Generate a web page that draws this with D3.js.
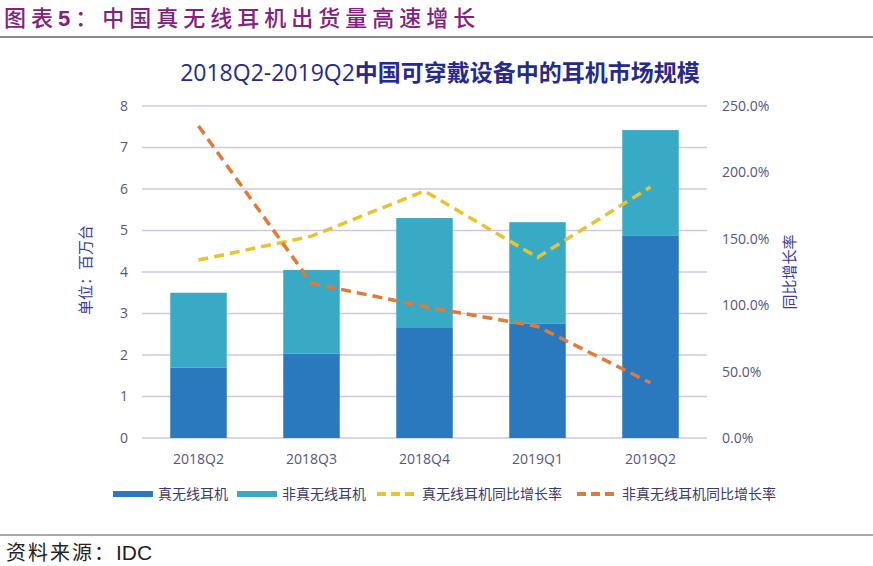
<!DOCTYPE html>
<html><head><meta charset="utf-8">
<script src="https://cdn.jsdelivr.net/npm/d3@7/dist/d3.min.js"></script>
<style>
body{margin:0;background:#fff;}
svg{display:block;font-family:"Noto Sans CJK SC","Noto Sans",sans-serif;}
</style></head>
<body><svg id="c" width="873" height="566"></svg>
<script>
const categories = ["2018Q2","2018Q3","2018Q4","2019Q1","2019Q2"];
const twsUnits = [1.7, 2.03, 2.65, 2.75, 4.87];        // 真无线耳机 (百万台)
const nonTwsUnits = [1.8, 2.02, 2.65, 2.45, 2.55];     // 非真无线耳机 (百万台)
const twsGrowth = [1.34, 1.52, 1.86, 1.36, 1.89];      // 真无线耳机同比增长率
const nonTwsGrowth = [2.35, 1.165, 0.99, 0.84, 0.415]; // 非真无线耳机同比增长率
const leftTicks = [0,1,2,3,4,5,6,7,8];
const rightTicks = [0,0.5,1,1.5,2,2.5];
const seriesNames = ["真无线耳机","非真无线耳机","真无线耳机同比增长率","非真无线耳机同比增长率"];

const svg = d3.select("#c");
const C = {dark:"#2a78bd", light:"#38aac6", yellow:"#ecc22c", orange:"#e27a35", grid:"#c9c9e6", tick:"#55557f", axisTitle:"#3a3aa0", title:"#262a8e", head:"#84207f"};

// Header
const h = svg.append("text").attr("x",4).attr("y",26).attr("fill",C.head)
  .attr("font-size",22).attr("letter-spacing",5).attr("font-weight",500);
h.append("tspan").text("图表");
h.append("tspan").attr("font-family","'Liberation Sans',Arial,sans-serif").attr("font-weight",700).text("5");
h.append("tspan").text("：中国真无线耳机出货量高速增长");
svg.append("line").attr("x1",0).attr("x2",873).attr("y1",37).attr("y2",37).attr("stroke","#8a8a8a").attr("stroke-width",2);

// Chart title
const t = svg.append("text").attr("x",440).attr("y",81).attr("text-anchor","middle").attr("fill",C.title).attr("font-size",23);
t.append("tspan").attr("font-family","'Open Sans',sans-serif").text("2018Q2-2019Q2");
t.append("tspan").attr("font-weight","bold").text("中国可穿戴设备中的耳机市场规模");

const x = d3.scaleBand().domain(categories).range([142,707]).paddingInner(0.5).paddingOuter(0.25);
const yL = d3.scaleLinear().domain([0,8]).range([438,106]);
const yR = d3.scaleLinear().domain([0,2.5]).range([438,106]);

// Gridlines
svg.append("g").selectAll("line").data(leftTicks).join("line")
  .attr("x1",142).attr("x2",707).attr("y1",d=>yL(d)).attr("y2",d=>yL(d))
  .attr("stroke",C.grid).attr("stroke-width",1.3);

// Left axis
const gL = svg.append("g").attr("transform","translate(142,0)")
  .call(d3.axisLeft(yL).tickValues(leftTicks).tickSize(0).tickPadding(14).tickFormat(d3.format("d")));
gL.select(".domain").remove();
gL.selectAll("text").attr("font-size",14).attr("fill",C.tick).attr("font-family","'Open Sans',sans-serif");

// Right axis
const gR = svg.append("g").attr("transform","translate(707,0)")
  .call(d3.axisRight(yR).tickValues(rightTicks).tickSize(0).tickPadding(15).tickFormat(d3.format(".1%")));
gR.select(".domain").remove();
gR.selectAll("text").attr("font-size",14).attr("fill",C.tick).attr("font-family","'Open Sans',sans-serif");

// Bottom axis
const gB = svg.append("g").attr("transform","translate(0,438)")
  .call(d3.axisBottom(x).tickSize(0).tickPadding(16));
gB.select(".domain").remove();
gB.selectAll("text").attr("font-size",14).attr("fill",C.tick).attr("font-family","'Open Sans',sans-serif");

// Axis titles
svg.append("text").attr("transform","translate(91,270) rotate(-90)").attr("text-anchor","middle")
  .attr("fill",C.axisTitle).attr("font-size",15).text("单位：百万台");
svg.append("text").attr("transform","translate(795,272) rotate(-90)").attr("text-anchor","middle")
  .attr("fill",C.axisTitle).attr("font-size",15).text("同比增长率");

// Stacked bars
const rows = categories.map((c,i)=>({cat:c, tws:twsUnits[i], non:nonTwsUnits[i]}));
const stack = d3.stack().keys(["tws","non"])(rows);
const colors = [C.dark, C.light];
svg.append("g").selectAll("g").data(stack).join("g").attr("fill",(d,i)=>colors[i])
  .selectAll("rect").data(d=>d).join("rect")
  .attr("x",d=>x(d.data.cat)).attr("width",x.bandwidth())
  .attr("y",d=>yL(d[1])).attr("height",d=>yL(d[0])-yL(d[1]));

// Lines
const line = d3.line().x((d,i)=>x(categories[i])+x.bandwidth()/2).y(d=>yR(d));
svg.append("path").datum(twsGrowth).attr("d",line).attr("fill","none").attr("stroke",C.yellow)
  .attr("stroke-width",3.5).attr("stroke-dasharray","10,6");
svg.append("path").datum(nonTwsGrowth).attr("d",line).attr("fill","none").attr("stroke",C.orange)
  .attr("stroke-width",3.5).attr("stroke-dasharray","10,6");

// Legend
const legendItems = [
  {name:seriesNames[0], color:C.dark, type:"rect", x:113},
  {name:seriesNames[1], color:C.light, type:"rect", x:237},
  {name:seriesNames[2], color:C.yellow, type:"line", x:377},
  {name:seriesNames[3], color:C.orange, type:"line", x:577}
];
const lg = svg.append("g");
legendItems.forEach(it=>{
  if(it.type==="rect"){
    lg.append("rect").attr("x",it.x).attr("y",491).attr("width",40).attr("height",6).attr("fill",it.color);
  } else {
    lg.append("line").attr("x1",it.x).attr("x2",it.x+39).attr("y1",494).attr("y2",494)
      .attr("stroke",it.color).attr("stroke-width",4).attr("stroke-dasharray","9,5");
  }
  lg.append("text").attr("x",it.x+45).attr("y",499).attr("font-size",14).attr("fill","#3b3b6b").text(it.name);
});

// Footer
svg.append("line").attr("x1",0).attr("x2",873).attr("y1",535).attr("y2",535).attr("stroke","#555").attr("stroke-width",1.2);
const src = svg.append("text").attr("x",6).attr("y",560).attr("font-size",20).attr("fill","#222");
src.append("tspan").attr("letter-spacing",2).text("资料来源：");
src.append("tspan").attr("font-family","'Liberation Sans',Arial,sans-serif").attr("font-size",21).text("IDC");
</script></body></html>
